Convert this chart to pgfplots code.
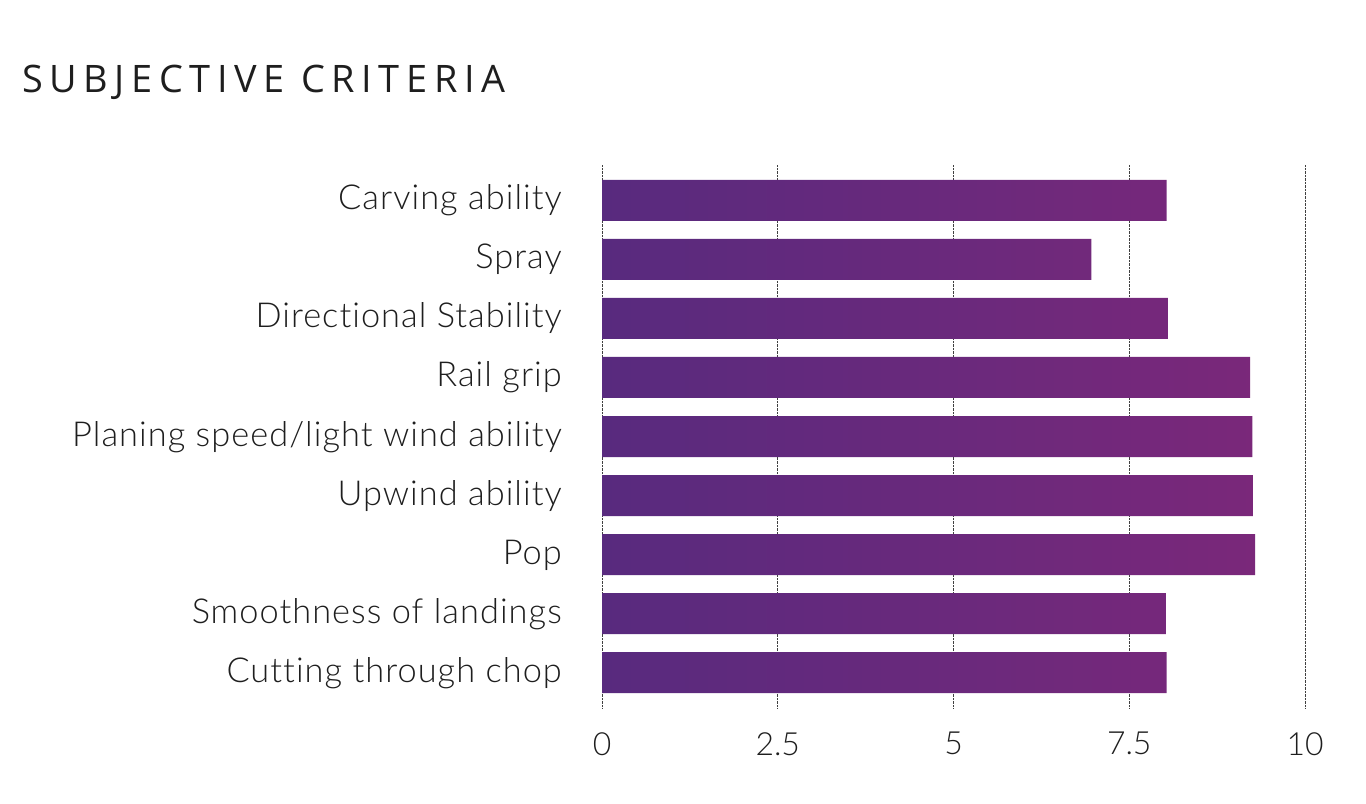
\documentclass[border=0pt]{standalone}
\usepackage{fontspec}
\usepackage{pgfplots}
\pgfplotsset{compat=1.18}
\setmainfont{Lato Light}[Ligatures=NoCommon]
\newfontfamily\labfont[Ligatures=NoCommon, LetterSpace=3]{Lato Light}
\newfontfamily\titlefont[LetterSpace=17.5]{Open Sans}
\definecolor{barL}{RGB}{88,42,126}
\definecolor{barR}{RGB}{122,40,122}
\definecolor{txt}{RGB}{30,30,30}
\begin{document}
\begin{tikzpicture}
\path[use as bounding box] (0,0) rectangle (1366bp,804bp);
\node[anchor=base west, inner sep=0, text=txt, font=\titlefont\fontsize{38}{40}\selectfont] at (22bp,711bp) {SUBJECTIVE CRITERIA};
\begin{axis}[
  at={(602bp,96bp)}, anchor=south west,
  scale only axis, width=703bp, height=543bp,
  xmin=0, xmax=10, ymin=-0.6, ymax=8.6, y dir=reverse,
  axis line style={draw=none},
  major tick length=0pt,
  tick style={draw=none},
  xmajorgrids,
  grid style={densely dotted, black!75, line width=0.9bp},
  xtick={0,2.5,5,7.5,10}, xticklabels={0,2.5,5,7.5,10},
  ytick={0,1,2,3,4,5,6,7,8},
  yticklabels={Carving ability, Spray, Directional Stability, Rail grip, Planing speed/light wind ability, Upwind ability, Pop, Smoothness of landings, Cutting through chop},
  xticklabel style={anchor=north, inner sep=0pt, yshift=-24bp, text=txt, font=\fontsize{32}{34}\selectfont},
  yticklabel style={anchor=base east, inner sep=0pt, xshift=-40bp, yshift=-9.5bp, text=txt, font=\labfont\fontsize{34.5}{36}\selectfont},
  xbar, bar width=41bp,
]
\addplot[draw=none, left color=barL, right color=barR] coordinates {
(8.03,0) (6.96,1) (8.05,2) (9.22,3) (9.25,4) (9.26,5) (9.29,6) (8.02,7) (8.03,8)
};
\end{axis}
\end{tikzpicture}
\end{document}
